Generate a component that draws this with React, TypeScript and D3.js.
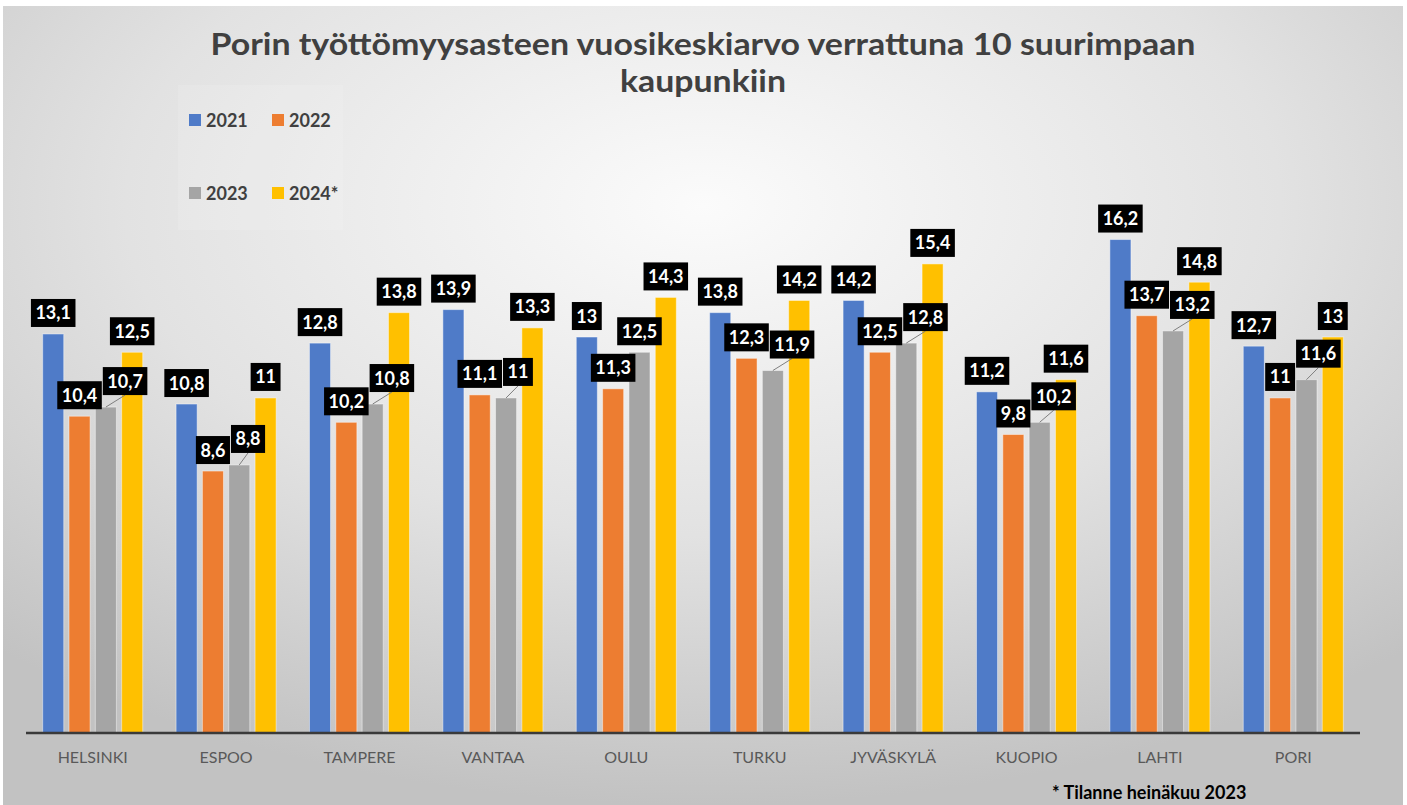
import React, { useEffect, useRef } from 'react';
import * as d3 from 'd3';

const WIDTH = 1407;
const HEIGHT = 805;

// cities on the x axis
const cities = ['HELSINKI', 'ESPOO', 'TAMPERE', 'VANTAA', 'OULU', 'TURKU', 'JYVÄSKYLÄ', 'KUOPIO', 'LAHTI', 'PORI'];

// series (legend order)
const seriesNames = ['2021', '2022', '2023', '2024*'];
const values2021 = [13.1, 10.8, 12.8, 13.9, 13, 13.8, 14.2, 11.2, 16.2, 12.7];
const values2022 = [10.4, 8.6, 10.2, 11.1, 11.3, 12.3, 12.5, 9.8, 13.7, 11];
const values2023 = [10.7, 8.8, 10.8, 11, 12.5, 11.9, 12.8, 10.2, 13.2, 11.6];
const values2024 = [12.5, 11, 13.8, 13.3, 14.3, 14.2, 15.4, 11.6, 14.8, 13];

const colors = ['#4f7bc8', '#ed7d31', '#a5a5a5', '#ffc000'];

const titleLines = ['Porin työttömyysasteen vuosikeskiarvo verrattuna 10 suurimpaan', 'kaupunkiin'];
const footnote = '* Tilanne heinäkuu 2023';

const FONT = 'Lato, "Open Sans", sans-serif';

const fmt = (v: number) => String(v).replace('.', ',');

interface Box { x: number; y: number; w: number; h: number; }

const overlaps = (a: Box, b: Box) =>
  a.x < b.x + b.w && b.x < a.x + a.w && a.y < b.y + b.h && b.y < a.y + a.h;

export default function App() {
  const svgRef = useRef<SVGSVGElement>(null);

  useEffect(() => {
    document.body.style.margin = '0';
    if (!svgRef.current) return;
    const svg = d3.select(svgRef.current);
    svg.selectAll('*').remove();

    const series = [values2021, values2022, values2023, values2024];

    // background
    const defs = svg.append('defs');
    const grad = defs.append('radialGradient')
      .attr('id', 'bg')
      .attr('cx', '50%').attr('cy', '25%').attr('r', '75%');
    grad.append('stop').attr('offset', '0%').attr('stop-color', '#fbfbfb');
    grad.append('stop').attr('offset', '55%').attr('stop-color', '#e2e2e2');
    grad.append('stop').attr('offset', '100%').attr('stop-color', '#c2c2c2');

    svg.append('rect').attr('width', WIDTH).attr('height', HEIGHT).attr('fill', '#ffffff');
    svg.append('rect')
      .attr('x', 3).attr('y', 6)
      .attr('width', 1400).attr('height', HEIGHT - 6)
      .attr('fill', 'url(#bg)');

    // scales
    const x0 = d3.scaleBand<string>()
      .domain(cities)
      .range([26, 1360])
      .paddingInner(0.25)
      .paddingOuter(0.125);

    const x1 = d3.scaleBand<string>()
      .domain(seriesNames)
      .range([0, x0.bandwidth()])
      .paddingInner(0.2);

    const y = d3.scaleLinear().domain([0, 20]).range([733, 733 - 20 * 30.46]);

    // title
    const title = svg.append('g').attr('font-family', FONT).attr('font-weight', 700)
      .attr('fill', '#404040').attr('text-anchor', 'middle');
    title.append('text').attr('x', 703).attr('y', 55).attr('font-size', 30)
      .attr('textLength', 985).attr('lengthAdjust', 'spacingAndGlyphs')
      .text(titleLines[0]);
    title.append('text').attr('x', 703).attr('y', 92).attr('font-size', 30)
      .attr('textLength', 166).attr('lengthAdjust', 'spacingAndGlyphs')
      .text(titleLines[1]);

    // legend
    const legend = svg.append('g').attr('font-family', FONT);
    legend.append('rect').attr('x', 178).attr('y', 85).attr('width', 165).attr('height', 145)
      .attr('fill', '#ffffff').attr('opacity', 0.12);
    seriesNames.forEach((name, i) => {
      const lx = 189 + (i % 2) * 83;
      const ly = 127 + Math.floor(i / 2) * 73;
      legend.append('rect').attr('x', lx).attr('y', ly - 13).attr('width', 12).attr('height', 12)
        .attr('fill', colors[i]);
      legend.append('text').attr('x', lx + 17).attr('y', ly)
        .attr('font-size', 18).attr('font-weight', 700).attr('fill', '#404040')
        .text(name);
    });

    // bars
    const barsG = svg.append('g');
    cities.forEach((city, ci) => {
      seriesNames.forEach((name, si) => {
        const v = series[si][ci];
        barsG.append('rect')
          .attr('x', (x0(city) ?? 0) + (x1(name) ?? 0))
          .attr('y', y(v))
          .attr('width', x1.bandwidth())
          .attr('height', y(0) - y(v))
          .attr('fill', colors[si])
          .attr('stroke', '#ffffff')
          .attr('stroke-opacity', 0.45)
          .attr('stroke-width', 1);
      });
    });

    // axis line
    svg.append('line')
      .attr('x1', 26).attr('x2', 1360)
      .attr('y1', y(0)).attr('y2', y(0))
      .attr('stroke', '#3a3a3a').attr('stroke-width', 2.5);

    // category labels
    svg.append('g').attr('font-family', FONT).attr('font-size', 16).attr('fill', '#595959')
      .attr('text-anchor', 'middle')
      .selectAll('text')
      .data(cities)
      .enter()
      .append('text')
      .attr('x', d => (x0(d) ?? 0) + x0.bandwidth() / 2)
      .attr('y', 763)
      .text(d => d);

    // data labels (black boxes, nudged right when they collide)
    const labelG = svg.append('g').attr('font-family', FONT).attr('font-weight', 700).attr('font-size', 18);
    cities.forEach((city, ci) => {
      const placed: Box[] = [];
      seriesNames.forEach((name, si) => {
        const v = series[si][ci];
        const cx = (x0(city) ?? 0) + (x1(name) ?? 0) + x1.bandwidth() / 2;
        const top = y(v);
        const g = labelG.append('g');
        const rect = g.append('rect').attr('fill', '#000000');
        const txt = g.append('text').attr('fill', '#ffffff').attr('text-anchor', 'middle').text(fmt(v));
        const tw = (txt.node() as SVGTextElement).getComputedTextLength();
        const w = tw + 9;
        const h = 28;
        const box: Box = { x: cx - w / 2, y: top - 7 - h, w, h };
        let shifted = false;
        for (const p of placed) {
          if (overlaps(box, p)) {
            box.x = p.x + p.w + 1;
            box.y -= 5;
            shifted = true;
          }
        }
        placed.push(box);
        if (shifted) {
          g.insert('line', 'rect')
            .attr('x1', cx).attr('y1', top)
            .attr('x2', box.x + w / 2).attr('y2', box.y + h)
            .attr('stroke', '#7f7f7f').attr('stroke-width', 1);
        }
        rect.attr('x', box.x).attr('y', box.y).attr('width', w).attr('height', h);
        txt.attr('x', box.x + w / 2).attr('y', box.y + h / 2 + 6.5);
      });
    });

    // footnote
    svg.append('text')
      .attr('x', 1052).attr('y', 799)
      .attr('font-family', FONT).attr('font-weight', 700).attr('font-size', 18)
      .attr('fill', '#000000')
      .text(footnote);
  }, []);

  return <svg ref={svgRef} width={WIDTH} height={HEIGHT} style={{ display: 'block' }} />;
}
